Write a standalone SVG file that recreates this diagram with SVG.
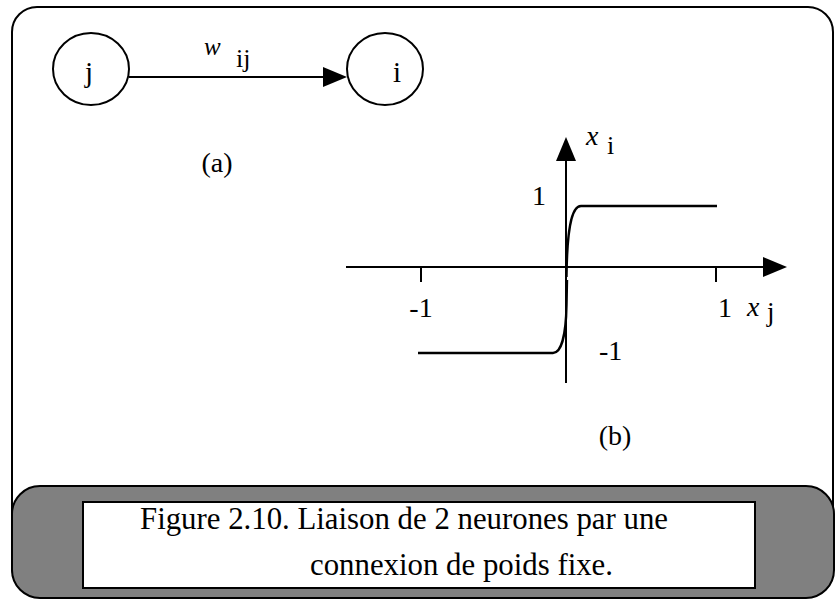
<svg xmlns="http://www.w3.org/2000/svg" width="835" height="600" viewBox="0 0 835 600">
<defs>
<style>
.ln{fill:none;stroke:#000;stroke-width:2}
.cv{fill:none;stroke:#000;stroke-width:2.4}
.nd{fill:#fff;stroke:#000;stroke-width:2}
.t{font-family:"Liberation Serif","Times New Roman",serif;fill:#000}
.it{font-family:"Liberation Serif","Times New Roman",serif;font-style:italic;fill:#000}
</style>
<marker id="ah" viewBox="0 0 24 20" refX="21" refY="10" markerWidth="24" markerHeight="20" orient="auto" markerUnits="userSpaceOnUse">
<path d="M0,0 L24,10 L0,20 z" fill="#000"/>
</marker>
</defs>
<rect width="835" height="600" fill="#fff"/>
<g id="frame">
<rect x="12" y="7" width="821" height="585" rx="25" ry="25" fill="#fff" stroke="#000" stroke-width="2"/>
</g>
<g id="node-j">
<ellipse cx="91" cy="69" rx="38" ry="36" class="nd"/>
<text x="89" y="82" class="t" font-size="29" text-anchor="middle">j</text>
</g>
<g id="node-i">
<ellipse cx="385" cy="69" rx="38" ry="36" class="nd"/>
<text x="397" y="82" class="t" font-size="29" text-anchor="middle">i</text>
</g>
<g id="connectors">
<line x1="129" y1="77" x2="344" y2="77" class="ln" marker-end="url(#ah)"/>
</g>
<g id="label-wij">
<text x="204" y="55" class="it" font-size="25">w</text>
<text x="236" y="67" class="t" font-size="26">ij</text>
</g>
<text x="217" y="172" class="t" font-size="28" text-anchor="middle">(a)</text>
<g id="graph">
<line x1="566" y1="383" x2="566" y2="140" class="ln" marker-end="url(#ah)"/>
<line x1="346" y1="267" x2="784" y2="267" class="ln" marker-end="url(#ah)"/>
<line x1="421" y1="267" x2="421" y2="282" class="ln"/>
<line x1="716" y1="267" x2="716" y2="282" class="ln"/>
<path d="M566.5,277 C567,232 571,206 581,206 L717,206" class="cv"/>
<path d="M418,353 L553,353 C561,353 566,336 566.5,305 L567,280" class="cv"/>
<text x="586" y="145" class="it" font-size="28">x</text>
<text x="607" y="154" class="t" font-size="26">i</text>
<text x="539" y="205" class="t" font-size="28" text-anchor="middle">1</text>
<text x="421" y="317" class="t" font-size="28" text-anchor="middle">-1</text>
<text x="725" y="317" class="t" font-size="28" text-anchor="middle">1</text>
<text x="747" y="316" class="it" font-size="28">x</text>
<text x="767" y="321" class="t" font-size="27">j</text>
<text x="599" y="360" class="t" font-size="28">-1</text>
<text x="615" y="445" class="t" font-size="28" text-anchor="middle">(b)</text>
</g>
<g id="caption">
<rect x="12" y="486" width="822" height="112" rx="28" ry="28" fill="#808080" stroke="#000" stroke-width="2"/>
<rect x="83" y="502" width="672" height="86" fill="#fff" stroke="#000" stroke-width="2"/>
<text x="140" y="529" class="t" font-size="31" textLength="528" lengthAdjust="spacingAndGlyphs">Figure 2.10. Liaison de 2 neurones par une</text>
<text x="310" y="575" class="t" font-size="31" textLength="303" lengthAdjust="spacingAndGlyphs">connexion de poids fixe.</text>
</g>
</svg>
